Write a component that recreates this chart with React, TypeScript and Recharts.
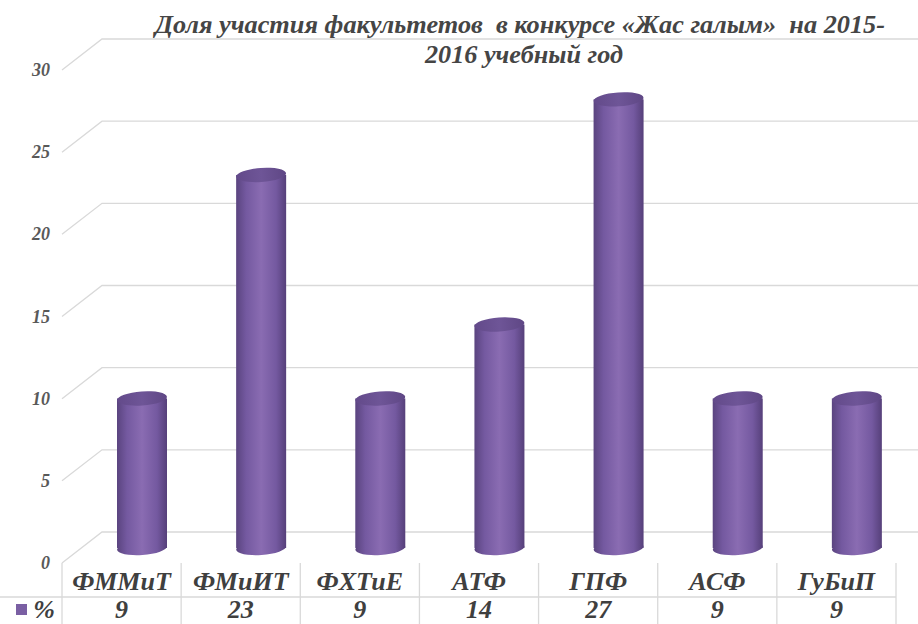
import { BarChart, Bar, XAxis, YAxis, CartesianGrid } from "recharts";

const faculties = ["ФММиТ", "ФМиИТ", "ФХТиЕ", "АТФ", "ГПФ", "АСФ", "ГуБиП"];
// bar heights; the table shows them rounded
const shares = [9.1, 22.7, 9.1, 13.6, 27.3, 9.1, 9.1];
const yTicks = [0, 5, 10, 15, 20, 25, 30];
const seriesName = "%";
const titleLine1 = "Доля участия факультетов  в конкурсе «Жас галым»  на 2015-";
const titleLine2 = "2016 учебный год";

const data = faculties.map((name, i) => ({ name, value: shares[i] }));

const W = 918;
const H = 624;
const LEFT = 82;
const RIGHT = 2;
const PLOT_W = W - LEFT - RIGHT;
const BAND = PLOT_W / faculties.length;
// 3D offsets: front edge of the floor/table vs back wall
const DX = 20;
const FRONT_DY = 15;
const BACK_DY = 16;

const FONT = "Times New Roman, Liberation Serif, DejaVu Serif, serif";
const GRID = "#d9d9d9";

const gridLine = (props: any) => {
  const { x1, x2, y1 } = props;
  return (
    <polyline
      key={props.key ?? `g-${y1}`}
      points={`${x1 - DX},${y1 + FRONT_DY} ${x1 + DX},${y1 - BACK_DY} ${x2 + RIGHT},${y1 - BACK_DY}`}
      fill="none"
      stroke={GRID}
      strokeWidth={1.3}
    />
  );
};

const YTick = ({ y, payload }: any) => (
  <text
    x={50}
    y={y + FRONT_DY}
    textAnchor="end"
    dominantBaseline="central"
    fontFamily={FONT}
    fontWeight={700}
    fontStyle="italic"
    fontSize={18}
    fill="#595959"
  >
    {payload.value}
  </text>
);

const TableTick = ({ x, y, payload, index }: any) => {
  const cx = x - DX;
  const left = cx - BAND / 2;
  const right = cx + BAND / 2;
  const top = y + FRONT_DY;
  const mid = y + 49;
  const textProps = {
    fontFamily: FONT,
    fontWeight: 700,
    fontStyle: "italic",
    fontSize: 26,
    fill: "#3f3f3f",
    textAnchor: "middle" as const,
  };
  return (
    <g>
      {index === 0 && (
        <g>
          <line x1={left} y1={top} x2={left} y2={H} stroke={GRID} strokeWidth={1.3} />
          <line x1={0} y1={mid} x2={left} y2={mid} stroke={GRID} strokeWidth={1.3} />
          <rect x={16} y={mid + 7} width={11} height={11} fill="#7a5fa3" />
          <text {...textProps} x={44} y={mid + 21}>
            {seriesName}
          </text>
        </g>
      )}
      <line x1={right} y1={top} x2={right} y2={H} stroke={GRID} strokeWidth={1.3} />
      <line x1={left} y1={mid} x2={right} y2={mid} stroke={GRID} strokeWidth={1.3} />
      <text {...textProps} x={cx} y={y + 42}>
        {payload.value}
      </text>
      <text {...textProps} x={cx} y={y + 70}>
        {Math.round(shares[index])}
      </text>
    </g>
  );
};

const Cylinder = (props: any) => {
  const { x, y, width, height } = props;
  const rx = width / 2;
  const ry = 7;
  const cx = x + rx;
  const bottom = y + height;
  return (
    <g>
      <ellipse
        cx={cx}
        cy={bottom}
        rx={rx}
        ry={ry}
        fill="url(#cylBody)"
        transform={`rotate(-4 ${cx} ${bottom})`}
      />
      <rect x={x} y={y} width={width} height={height} fill="url(#cylBody)" />
      <ellipse
        cx={cx}
        cy={y}
        rx={rx}
        ry={ry}
        fill="url(#cylTop)"
        transform={`rotate(-4 ${cx} ${y})`}
      />
    </g>
  );
};

export default function App() {
  return (
    <div style={{ position: "absolute", left: 0, top: 0, width: W, height: H, background: "#fff" }}>
      <svg width={0} height={0} style={{ position: "absolute" }}>
        <defs>
          <linearGradient id="cylBody" x1="0" y1="0" x2="1" y2="0">
            <stop offset="0%" stopColor="#5a447f" />
            <stop offset="20%" stopColor="#7459a0" />
            <stop offset="50%" stopColor="#8a6cb2" />
            <stop offset="80%" stopColor="#7459a0" />
            <stop offset="100%" stopColor="#56407a" />
          </linearGradient>
          <linearGradient id="cylTop" x1="0" y1="0" x2="1" y2="0">
            <stop offset="0%" stopColor="#634a8a" />
            <stop offset="50%" stopColor="#6e5597" />
            <stop offset="100%" stopColor="#5f4785" />
          </linearGradient>
        </defs>
      </svg>
      <BarChart
        width={W}
        height={H}
        data={data}
        margin={{ top: 55, right: RIGHT, bottom: 0, left: 0 }}
        barCategoryGap={0}
      >
        <CartesianGrid vertical={false} horizontal={gridLine} />
        <XAxis
          dataKey="name"
          height={76}
          axisLine={false}
          tickLine={false}
          tickSize={0}
          tickMargin={0}
          interval={0}
          tick={<TableTick />}
        />
        <YAxis
          width={LEFT}
          domain={[0, 30]}
          ticks={yTicks}
          axisLine={false}
          tickLine={false}
          tick={<YTick />}
        />
        <Bar dataKey="value" barSize={50} shape={<Cylinder />} isAnimationActive={false} />
      </BarChart>
      <svg
        width={W}
        height={80}
        style={{ position: "absolute", left: 0, top: 0, pointerEvents: "none" }}
      >
        <text
          x={520}
          y={33}
          textAnchor="middle"
          fontFamily={FONT}
          fontWeight={700}
          fontStyle="italic"
          fontSize={25}
          fill="#454545"
          textLength={730}
          lengthAdjust="spacingAndGlyphs"
          style={{ whiteSpace: "pre" }}
        >
          {titleLine1}
        </text>
        <text
          x={524}
          y={63}
          textAnchor="middle"
          fontFamily={FONT}
          fontWeight={700}
          fontStyle="italic"
          fontSize={25}
          fill="#454545"
          textLength={198}
          lengthAdjust="spacingAndGlyphs"
        >
          {titleLine2}
        </text>
      </svg>
    </div>
  );
}
